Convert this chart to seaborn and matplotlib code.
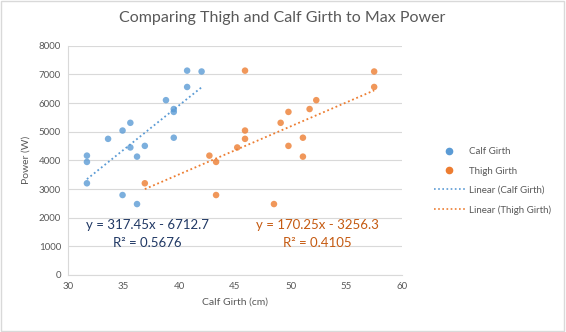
import matplotlib
matplotlib.use("Agg")
import matplotlib.pyplot as plt
import seaborn as sns
import pandas as pd
from matplotlib.patches import Rectangle
from matplotlib.lines import Line2D

# ---- data ----
power = [7130, 7100, 6560, 6100, 5790, 5690, 5310, 5040, 4750, 4790,
         4505, 4450, 4165, 4130, 3945, 3200, 2790, 2475]
calf_girth = [40.7, 42.0, 40.7, 38.8, 39.5, 39.5, 35.6, 34.9, 33.6, 39.5,
              36.9, 35.6, 31.7, 36.2, 31.7, 31.7, 34.9, 36.2]
thigh_girth = [45.9, 57.5, 57.5, 52.3, 51.7, 49.8, 49.1, 45.9, 45.9, 51.1,
               49.8, 45.2, 42.7, 51.1, 43.3, 36.9, 43.3, 48.5]
series_names = ["Calf Girth", "Thigh Girth"]
eq_calf = ["y = 317.45x - 6712.7", "R\u00b2 = 0.5676"]
eq_thigh = ["y = 170.25x - 3256.3", "R\u00b2 = 0.4105"]
x_ticks = [30, 35, 40, 45, 50, 55, 60]
y_ticks = [0, 1000, 2000, 3000, 4000, 5000, 6000, 7000, 8000]
title = "Comparing Thigh and Calf Girth to Max Power"
x_label = "Calf Girth (cm)"
y_label = "Power (W)"

df_calf = pd.DataFrame({"girth": calf_girth, "power": power})
df_thigh = pd.DataFrame({"girth": thigh_girth, "power": power})

sns.set_theme(style="white")
plt.rcParams["font.family"] = ["Lato", "DejaVu Sans"]

BLUE = "#5b9bd5"
ORANGE = "#ed7d31"
GREY = "#595959"

fig = plt.figure(figsize=(5.66, 3.32), dpi=100)
ax = fig.add_axes([68 / 566, 1 - 275 / 332, (402 - 68) / 566, (275 - 45.7) / 332])

for df, col in [(df_calf, BLUE), (df_thigh, ORANGE)]:
    sns.regplot(data=df, x="girth", y="power", ax=ax, ci=None,
                scatter_kws=dict(s=22, color=col, edgecolor="none", zorder=3),
                line_kws=dict(color=col, linestyle=(0, (1, 1.5)), linewidth=1.3, zorder=2))

ax.set_xlim(30, 60)
ax.set_ylim(0, 8000)
ax.set_xticks(x_ticks)
ax.set_yticks(y_ticks)
ax.tick_params(axis="both", length=0, labelsize=7, colors=GREY, pad=5)
ax.yaxis.grid(True, color="#d9d9d9", linewidth=0.8)
ax.xaxis.grid(False)
ax.set_axisbelow(True)
for s in ["top", "right"]:
    ax.spines[s].set_visible(False)
for s in ["left", "bottom"]:
    ax.spines[s].set_color("#d9d9d9")
    ax.spines[s].set_linewidth(0.8)
ax.set_xlabel(x_label, fontsize=7.5, color=GREY, labelpad=5)
ax.set_ylabel(y_label, fontsize=7.5, color=GREY, labelpad=6)

fig.text(0.5 * (62 + 502) / 566, 1 - 18 / 332, title, ha="center", va="center",
         fontsize=11.5, color=GREY)

# trendline equations
ax.text(37.1, 1742, eq_calf[0], ha="center", va="center", fontsize=9.5, color="#203864")
ax.text(37.1, 1115, eq_calf[1], ha="center", va="center", fontsize=9.5, color="#203864")
ax.text(52.4, 1742, eq_thigh[0], ha="center", va="center", fontsize=9.5, color="#c55a11")
ax.text(52.4, 1115, eq_thigh[1], ha="center", va="center", fontsize=9.5, color="#c55a11")

handles = [
    Line2D([], [], marker="o", linestyle="none", color=BLUE, markersize=4.5),
    Line2D([], [], marker="o", linestyle="none", color=ORANGE, markersize=4.5),
    Line2D([], [], color=BLUE, linestyle=(0, (1, 1.5)), linewidth=1.2),
    Line2D([], [], color=ORANGE, linestyle=(0, (1, 1.5)), linewidth=1.2),
]
labels = series_names + [f"Linear ({n})" for n in series_names]
leg = fig.legend(handles, labels, loc="center left",
                 bbox_to_anchor=(425 / 566, 1 - 181 / 332), frameon=False,
                 fontsize=7, handlelength=3.2, handletextpad=0.4,
                 labelspacing=1.05, labelcolor=GREY)

fig.patches.append(Rectangle((0.002, 0.003), 0.995, 0.993, transform=fig.transFigure,
                             fill=False, edgecolor="#d9d9d9", linewidth=1))

fig.savefig("out.png", dpi=100, facecolor="white")
